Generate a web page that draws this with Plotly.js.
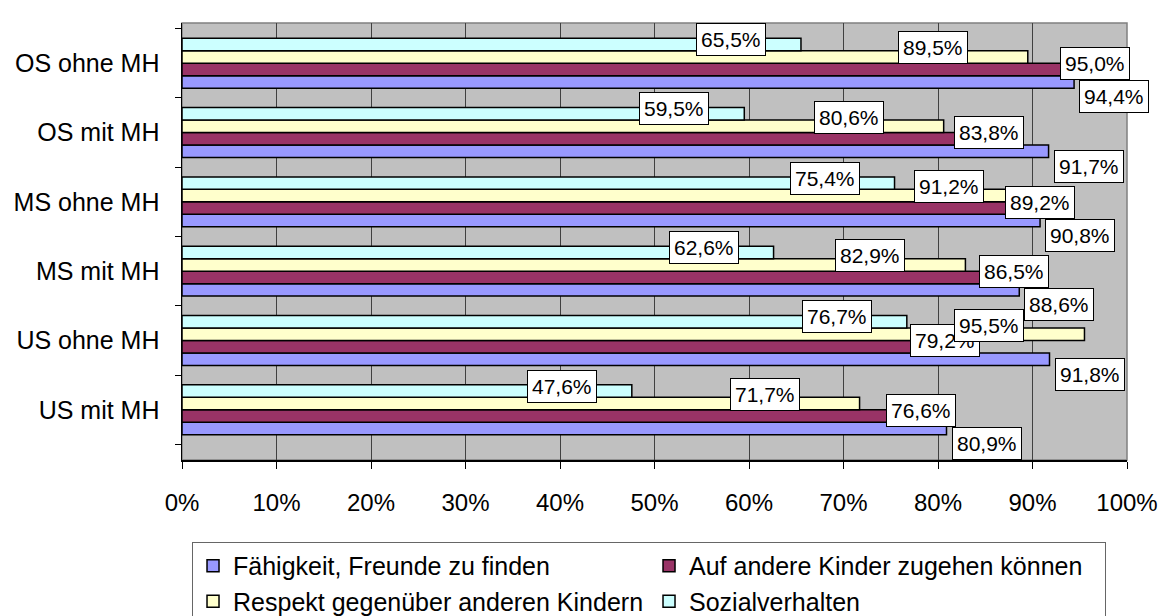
<!DOCTYPE html>
<html>
<head>
<meta charset="utf-8">
<script src="https://cdn.plot.ly/plotly-3.0.1.min.js"></script>
<style>html,body{margin:0;padding:0;background:#fff;}#chart{width:1163px;height:616px;}</style>
</head>
<body>
<div id="chart"></div>
<script>
// ---- data (bottom to top as drawn) ----
const categories = ["US mit MH", "US ohne MH", "MS mit MH", "MS ohne MH", "OS mit MH", "OS ohne MH"];
const seriesNames = ["Fähigkeit, Freunde zu finden", "Auf andere Kinder zugehen können", "Respekt gegenüber anderen Kindern", "Sozialverhalten"];
const faehigkeit = [80.9, 91.8, 88.6, 90.8, 91.7, 94.4];
const aufAndere  = [76.6, 79.2, 86.5, 89.2, 83.8, 95.0];
const respekt    = [71.7, 95.5, 82.9, 91.2, 80.6, 89.5];
const sozial     = [47.6, 76.7, 62.6, 75.4, 59.5, 65.5];
const xTicks = [0, 10, 20, 30, 40, 50, 60, 70, 80, 90, 100];

// ---- styles ----
const colors = ["#9999FF", "#993366", "#FFFFCC", "#CCFFFF"];
const labelDx = [40, 15, -95, -70];
const labelDy = [-15, 6, 9, 5];
const font = "Arial, 'Liberation Sans', sans-serif";
const bargap = 0.28;

const seriesValues = [faehigkeit, aufAndere, respekt, sozial];

const traces = seriesValues.map((vals, i) => ({
  type: "bar",
  orientation: "h",
  name: seriesNames[i],
  y: categories,
  x: vals,
  marker: {color: colors[i], line: {color: "#000", width: 1.5}},
  hoverinfo: "skip"
}));

const nS = seriesValues.length;
const slot = (1 - bargap) / nS;
const annotations = [];
seriesValues.forEach((vals, i) => {
  vals.forEach((v, c) => {
    annotations.push({
      xref: "x", yref: "y",
      x: v, y: c + (i - (nS - 1) / 2) * slot,
      text: v.toFixed(1).replace(".", ",") + "%",
      showarrow: false,
      xanchor: "center", yanchor: "middle",
      xshift: labelDx[i], yshift: labelDy[i],
      bgcolor: "#fff", bordercolor: "#000", borderwidth: 1, borderpad: 4,
      font: {family: font, size: 21, color: "#000"}
    });
  });
});

const layout = {
  width: 1163, height: 616,
  margin: {l: 182, r: 36, t: 23, b: 156, pad: 0, autoexpand: false},
  paper_bgcolor: "#fff",
  plot_bgcolor: "#C0C0C0",
  barmode: "group",
  bargap: bargap,
  bargroupgap: 0,
  showlegend: true,
  font: {family: font, color: "#000"},
  xaxis: {
    range: [0, 100],
    tickvals: xTicks,
    ticktext: xTicks.map(t => t + "%"),
    showgrid: true, gridcolor: "#404040", gridwidth: 1,
    zeroline: false,
    showline: true, linecolor: "#000", linewidth: 1.5,
    ticks: "outside", ticklen: 7, tickcolor: "#000", tickwidth: 1,
    ticklabelstandoff: 14,
    tickfont: {family: font, size: 24, color: "#000"},
    fixedrange: true
  },
  yaxis: {
    type: "category",
    categoryorder: "array", categoryarray: categories,
    showgrid: false,
    showline: true, linecolor: "#000", linewidth: 1.5,
    ticks: "outside", ticklen: 6, tickcolor: "#000", tickwidth: 1,
    tickson: "boundaries",
    ticklabelstandoff: 16,
    tickfont: {family: font, size: 25, color: "#000"},
    fixedrange: true
  },
  shapes: [{
    type: "rect", xref: "paper", yref: "paper", x0: 0, x1: 1, y0: 0, y1: 1,
    line: {color: "#808080", width: 1.5}, fillcolor: "rgba(0,0,0,0)", layer: "below"
  }],
  legend: {
    orientation: "h",
    x: 0.0106, xanchor: "left",
    y: -0.1876, yanchor: "top",
    traceorder: "normal",
    entrywidth: 411, entrywidthmode: "pixels",
    bgcolor: "#fff", bordercolor: "#666", borderwidth: 1,
    font: {family: font, size: 25, color: "#000"},
    itemwidth: 30
  },
  annotations: annotations
};

Plotly.newPlot("chart", traces, layout, {displayModeBar: false, staticPlot: true});
</script>
</body>
</html>
